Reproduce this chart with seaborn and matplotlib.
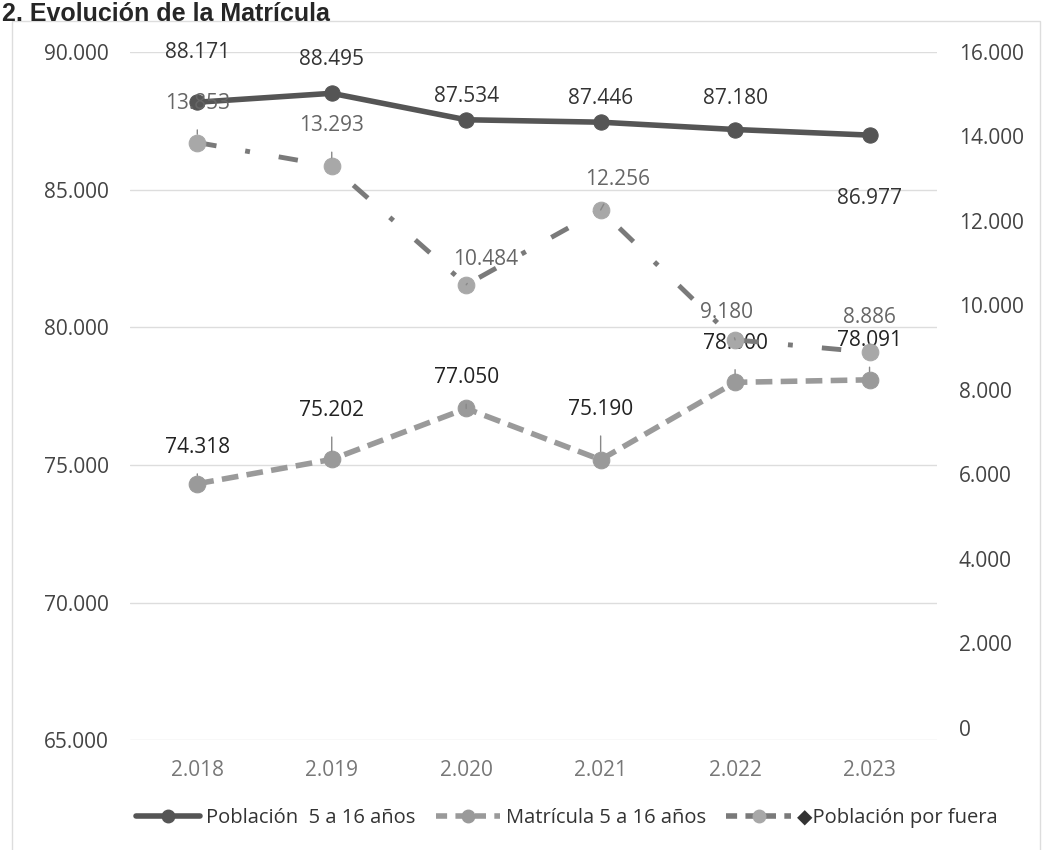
import matplotlib
matplotlib.use("Agg")
import seaborn as sns
import numpy as np
import pandas as pd
import matplotlib.pyplot as plt
from matplotlib.lines import Line2D
from matplotlib.patches import Rectangle

# datos de la gráfica
anios = ["2.018", "2.019", "2.020", "2.021", "2.022", "2.023"]
poblacion = [88171, 88495, 87534, 87446, 87180, 86977]
matricula = [74318, 75202, 77050, 75190, 78000, 78091]
por_fuera = [13853, 13293, 10484, 12256, 9180, 8886]

# desplazamiento de etiquetas (puntos)
off_pob = [(0, 36), (0, 24), (0, 17), (0, 17), (0, 22), (0, -46)]
off_mat = [(0, 26), (0, 35), (0, 22), (0, 36), (0, 28), (0, 28)]
off_fue = [(0, 28), (0, 29), (14, 18), (12, 22), (-6, 20), (0, 25)]


def fmt(v):
    return f"{v:,}".replace(",", ".")


sns.set_style("white")
plt.rcParams['font.family'] = ['Open Sans', 'DejaVu Sans']

df = pd.DataFrame({"anio": anios, "poblacion": poblacion,
                   "matricula": matricula, "por_fuera": por_fuera})

fig = plt.figure(figsize=(10.49, 8.5), dpi=100)
ax = fig.add_axes([0.124, 0.129, 0.769, 0.81])
ax2 = ax.twinx()

sns.lineplot(data=df, x="anio", y="poblacion", ax=ax, color="#555555",
             lw=4, marker="o", markersize=11, markeredgecolor="#555555", sort=False)
sns.lineplot(data=df, x="anio", y="matricula", ax=ax, color="#9a9a9a",
             lw=4, marker="o", markersize=12, markeredgecolor="#9a9a9a",
             dashes=False, sort=False, linestyle=(0, (3, 1.5)))
sns.lineplot(data=df, x="anio", y="por_fuera", ax=ax2, color="#7a7a7a",
             lw=3.5, marker="o", markersize=12, markerfacecolor="#a8a8a8",
             markeredgecolor="#a8a8a8", sort=False, linestyle=(0, (4, 6, 1, 6)))

ax.set_ylim(65000, 90000)
ax.set_yticks(np.arange(65000, 90001, 5000))
ax.set_yticklabels([fmt(v) for v in range(65000, 90001, 5000)])
ax2.set_ylim(-304, 15766)
ax2.set_yticks(np.arange(0, 16001, 2000))
ax2.set_yticklabels([fmt(v) for v in range(0, 16001, 2000)])
ax.set_xlim(-0.5, 5.5)

ax.grid(axis="y", color="#dddddd", lw=1)
ax.set_axisbelow(True)
for a in (ax, ax2):
    for s in a.spines.values():
        s.set_visible(False)
    a.set_xlabel("")
    a.set_ylabel("")
    a.tick_params(length=0, labelsize=15, colors="#444444")
ax.tick_params(axis="y", pad=15)
ax2.tick_params(axis="y", pad=16)
ax.tick_params(axis="x", pad=14, labelcolor="#777777", labelsize=15)

for i, v in enumerate(poblacion):
    ax.annotate(fmt(v), (i, v), xytext=off_pob[i], textcoords="offset points",
                ha="center", va="center", fontsize=15, color="#333333")
for i, v in enumerate(matricula):
    ax.annotate(fmt(v), (i, v), xytext=off_mat[i], textcoords="offset points",
                ha="center", va="center", fontsize=15, color="#222222",
                arrowprops=dict(arrowstyle="-", color="#888888", lw=1,
                                shrinkA=9, shrinkB=6))
for i, v in enumerate(por_fuera):
    ax2.annotate(fmt(v), (i, v), xytext=off_fue[i], textcoords="offset points",
                 ha="center", va="center", fontsize=15, color="#666666",
                 arrowprops=dict(arrowstyle="-", color="#888888", lw=1,
                                 shrinkA=9, shrinkB=6))

handles = [
    Line2D([], [], color="#555555", lw=4, marker="o", markersize=9),
    Line2D([], [], color="#9a9a9a", lw=4, marker="o", markersize=9,
           linestyle=(0, (2, 1.5))),
    Line2D([], [], color="#7a7a7a", lw=4, marker="o", markersize=9,
           markerfacecolor="#a8a8a8", markeredgecolor="#a8a8a8",
           linestyle=(0, (2, 1.5))),
]
labels = ["Población  5 a 16 años", "Matrícula 5 a 16 años", "◆Población por fuera"]
fig.legend(handles, labels, loc="center", bbox_to_anchor=(0.54, 0.038), ncol=3,
           frameon=False, fontsize=14.5, handlelength=3.2, columnspacing=1.0,
           handletextpad=0.3, labelcolor="#333333")

fig.text(0.002, 0.998, "2. Evolución de la Matrícula", fontsize=18, fontweight="bold",
         family=["Liberation Sans", "DejaVu Sans"], va="top", ha="left")
fig.patches.append(Rectangle((0.011, -0.01), 0.98, 0.985, transform=fig.transFigure,
                             fill=False, edgecolor="#dddddd", lw=1))

fig.savefig("out.png", dpi=100)
